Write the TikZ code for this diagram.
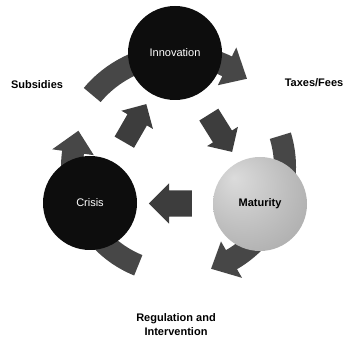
\documentclass[tikz,border=0pt]{standalone}
\usepackage{fontspec}
\setmainfont{Liberation Sans}
\usepackage{tikz}
\usetikzlibrary{calc,shapes,positioning}

\pgfdeclareradialshading{maturityball}{\pgfpoint{-14bp}{14bp}}{%
	color(0bp)=(gray!28);color(22bp)=(gray!50);color(45bp)=(gray!72);color(60bp)=(gray!80)}

% curved block arrow on the ring: start angle, end angle, radius
\newcommand{\ringarrow}[3]{%
	\fill[ringfill] ($(ring)+(#1:#3+11pt)$) arc[start angle=#1, end angle=#2+12, radius=#3+11pt]
		-- ($(ring)+(#2+12:#3+21pt)$) -- ($(ring)+(#2:#3)$) -- ($(ring)+(#2+12:#3-21pt)$)
		-- ($(ring)+(#2+12:#3-11pt)$) arc[start angle=#2+12, end angle=#1, radius=#3-11pt] -- cycle;}

\begin{document}
\begin{tikzpicture}[x=1pt,y=1pt,
	ringfill/.style={fill=black!72},
	phase/.style={circle, minimum size=94pt, inner sep=0pt, font=\fontsize{11}{13}\selectfont},
	label/.style={font=\fontsize{11}{14}\selectfont\bfseries, align=center, inner sep=0pt},
	blockarrow/.style={single arrow, fill=black!76, single arrow tip angle=90,
		inner xsep=0pt, single arrow head indent=0pt}]
	
	\useasboundingbox (0,0) rectangle (345,337);
	\coordinate (ring) at (178,170);
	
	\ringarrow{140}{52}{112pt}
	\ringarrow{17}{-72}{107pt}
	\ringarrow{248}{160}{106pt}
	
	\node[phase, fill=black!95, text=white] (innov) at (175,284) {Innovation};
	\node[phase, fill=black!95, text=white] (crisis) at (90,134) {Crisis};
	\node[phase, shading=maturityball, font=\fontsize{11}{13}\selectfont\bfseries] (matur) at (260,133) {Maturity};
	
	\node[blockarrow, rotate=-58, inner ysep=11pt, single arrow head extend=7pt, minimum height=44pt]
		(innovmatur) at ($(innov)!0.5!(matur)$) {};
	\node[blockarrow, rotate=180, inner ysep=13pt, single arrow head extend=7pt, minimum height=43pt, xshift=-2pt]
		(maturcrisis) at ($(matur)!0.5!(crisis)$) {};
	\node[blockarrow, rotate=60, inner ysep=11pt, single arrow head extend=7pt, minimum height=44pt]
		(crisisinnov) at ($(crisis)!0.5!(innov)$) {};
	
	\node[label] (subs) at (37,252) {Subsidies};
	\node[label] (taxes) at (314,254) {Taxes/Fees};
	\node[label, anchor=south] (regul) at (176,1) {Regulation and\\Intervention};
	
\end{tikzpicture}
\end{document}
